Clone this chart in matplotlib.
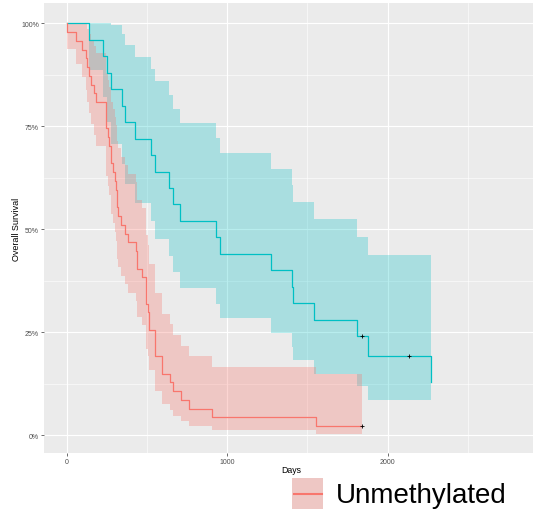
import matplotlib
matplotlib.use("Agg")
import matplotlib.pyplot as plt
from matplotlib.patches import Rectangle
from matplotlib.lines import Line2D

plt.rcParams['font.family'] = ['Liberation Sans', 'DejaVu Sans']

# Kaplan-Meier steps, MGMT methylated group (teal)
meth_time = [0, 137, 228, 252, 277, 344, 364, 426, 524, 553, 635, 662, 708,
             927, 952, 1275, 1405, 1410, 1540, 1811, 1878, 2269]
meth_surv = [1.0, 0.96, 0.92, 0.88, 0.84, 0.80, 0.76, 0.72, 0.68, 0.64, 0.60,
             0.56, 0.52, 0.48, 0.44, 0.40, 0.36, 0.32, 0.28, 0.24, 0.192, 0.128]
meth_upper = [1.0, 1.0, 1.0, 1.0, 0.997, 0.973, 0.947, 0.919, 0.890, 0.859,
              0.826, 0.793, 0.758, 0.722, 0.685, 0.646, 0.607, 0.567, 0.525,
              0.482, 0.438, 0.403]
meth_lower = [1.0, 0.886, 0.820, 0.761, 0.708, 0.658, 0.610, 0.564, 0.520,
              0.477, 0.436, 0.396, 0.357, 0.319, 0.283, 0.248, 0.214, 0.181,
              0.149, 0.120, 0.084, 0.041]
meth_censor_time = [1842, 2134]
meth_censor_surv = [0.24, 0.192]

# Kaplan-Meier steps, unmethylated group (red)
unmeth_time = [0, 3, 58, 93, 120, 128, 140, 149, 170, 180,
               242, 255, 261, 275, 289, 300, 306, 311, 318, 337,
               364, 379, 429, 435, 466, 492, 497, 507, 513, 553,
               595, 645, 660, 712, 761, 905, 1556, 1842]
unmeth_surv = [1.0, 0.979, 0.957, 0.936, 0.915, 0.894, 0.872, 0.851, 0.830, 0.809,
               0.745, 0.723, 0.702, 0.660, 0.638, 0.617, 0.596, 0.553, 0.532, 0.511,
               0.489, 0.468, 0.447, 0.404, 0.383, 0.362, 0.319, 0.298, 0.255, 0.191,
               0.149, 0.128, 0.106, 0.085, 0.064, 0.043, 0.021, 0.021]
unmeth_upper = [1.0, 1.0, 1.0, 1.0, 0.998, 0.986, 0.973, 0.959, 0.945, 0.929,
                0.880, 0.863, 0.846, 0.810, 0.792, 0.773, 0.754, 0.715, 0.696, 0.676,
                0.655, 0.635, 0.614, 0.572, 0.551, 0.529, 0.485, 0.462, 0.416, 0.344,
                0.295, 0.269, 0.244, 0.217, 0.191, 0.165, 0.148, 0.148]
unmeth_lower = [1.0, 0.938, 0.901, 0.869, 0.839, 0.810, 0.782, 0.755, 0.729, 0.703,
                0.630, 0.606, 0.583, 0.537, 0.515, 0.493, 0.471, 0.428, 0.407, 0.386,
                0.366, 0.345, 0.325, 0.286, 0.266, 0.247, 0.210, 0.192, 0.157, 0.107,
                0.075, 0.061, 0.047, 0.033, 0.021, 0.011, 0.003, 0.003]
unmeth_censor_time = [1842]
unmeth_censor_surv = [0.021]

x_ticks = [0, 1000, 2000]
y_ticks = [0, 0.25, 0.5, 0.75, 1.0]
y_tick_labels = ['0%', '25%', '50%', '75%', '100%']

RED = '#F8766D'
TEAL = '#00BFC4'

W, H = 533, 510
fig = plt.figure(figsize=(W / 100, H / 100), dpi=100)
ax = fig.add_axes([44 / W, (H - 454) / H, (538 - 44) / W, (454 - 4) / H])
ax.set_facecolor('#EBEBEB')
for s in ax.spines.values():
    s.set_visible(False)

# confidence bands
ax.fill_between(meth_time, meth_lower, meth_upper, step='post',
                color=TEAL, alpha=0.28, linewidth=0)
ax.fill_between(unmeth_time, unmeth_lower, unmeth_upper, step='post',
                color=RED, alpha=0.3, linewidth=0)

# survival curves
ax.step(meth_time, meth_surv, where='post', color=TEAL, lw=0.9)
ax.step(unmeth_time, unmeth_surv, where='post', color=RED, lw=0.9)

# censor marks
ax.plot(meth_censor_time, meth_censor_surv, '+', color='black', ms=3.5, mew=0.6)
ax.plot(unmeth_censor_time, unmeth_censor_surv, '+', color='black', ms=3.5, mew=0.6)

ax.set_xlim(-141.4, 2936)
ax.set_ylim(-0.0437, 1.0493)
ax.set_xticks(x_ticks)
ax.set_xticks([500, 1500, 2500], minor=True)
ax.set_yticks(y_ticks)
ax.set_yticklabels(y_tick_labels)
ax.set_yticks([0.125, 0.375, 0.625, 0.875], minor=True)
ax.grid(which='major', color='white', lw=0.8)
ax.grid(which='minor', color='white', lw=0.4)
ax.set_axisbelow(True)
ax.tick_params(which='major', length=2, width=0.5, color='#333333',
               labelsize=5, labelcolor='#4D4D4D', pad=1.5)
ax.tick_params(which='minor', length=0)

ax.set_xlabel('Days', fontsize=6.3)
ax.xaxis.set_label_coords(0.5, -0.027)
ax.set_ylabel('Overall Survival', fontsize=6.5)
ax.yaxis.set_label_coords(-0.047, 0.5)

# legend entry at the bottom
tf = fig.transFigure
fig.add_artist(Rectangle((292 / W, (H - 512) / H), 31 / W, 33 / H,
                         transform=tf, facecolor='#EBEBEB', edgecolor='none'))
fig.add_artist(Rectangle((292 / W, (H - 512) / H), 31 / W, 33 / H,
                         transform=tf, facecolor=RED, alpha=0.3, edgecolor='none'))
fig.add_artist(Line2D([294 / W, 322 / W], [(H - 495) / H] * 2,
                      transform=tf, color=RED, lw=1.5))
fig.text(336 / W, (H - 503) / H, 'Unmethylated', fontsize=20,
         ha='left', va='baseline', color='black')

fig.savefig('out.png', dpi=100)
